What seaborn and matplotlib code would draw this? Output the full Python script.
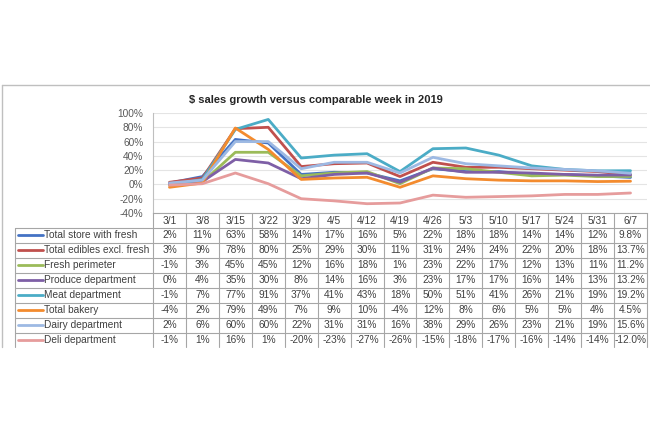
import matplotlib
matplotlib.use("Agg")
import matplotlib.pyplot as plt
import matplotlib.transforms as mtransforms
import numpy as np
import pandas as pd
import seaborn as sns

weeks = ["3/1", "3/8", "3/15", "3/22", "3/29", "4/5", "4/12", "4/19",
         "4/26", "5/3", "5/10", "5/17", "5/24", "5/31", "6/7"]

series_names = ["Total store with fresh", "Total edibles excl. fresh",
                "Fresh perimeter", "Produce department", "Meat department",
                "Total bakery", "Dairy department", "Deli department"]

store = [2, 11, 63, 58, 14, 17, 16, 5, 22, 18, 18, 14, 14, 12, 9.8]
edibles = [3, 9, 78, 80, 25, 29, 30, 11, 31, 24, 24, 22, 20, 18, 13.7]
perimeter = [-1, 3, 45, 45, 12, 16, 18, 1, 23, 22, 17, 12, 13, 11, 11.2]
produce = [0, 4, 35, 30, 8, 14, 16, 3, 23, 17, 17, 16, 14, 13, 13.2]
meat = [-1, 7, 77, 91, 37, 41, 43, 18, 50, 51, 41, 26, 21, 19, 19.2]
bakery = [-4, 2, 79, 49, 7, 9, 10, -4, 12, 8, 6, 5, 5, 4, 4.5]
dairy = [2, 6, 60, 60, 22, 31, 31, 16, 38, 29, 26, 23, 21, 19, 15.6]
deli = [-1, 1, 16, 1, -20, -23, -27, -26, -15, -18, -17, -16, -14, -14, -12.0]

colors = ["#4472C4", "#C0504D", "#9BBB59", "#7E5FA6",
          "#4BACC6", "#F38B2E", "#9DB9E3", "#E69C9C"]

values = [store, edibles, perimeter, produce, meat, bakery, dairy, deli]

df = pd.DataFrame({
    "week": np.tile(np.arange(len(weeks)), len(series_names)),
    "series": np.repeat(series_names, len(weeks)),
    "growth": np.concatenate(values),
})

sns.set_style("white")
plt.rcParams["font.family"] = ["Liberation Sans", "DejaVu Sans"]

fig = plt.figure(figsize=(6.5, 4.33), dpi=100)

# overlay in pixel coords for frame + data table
ov = fig.add_axes([0, 0, 1, 1], zorder=0)
ov.set_xlim(0, 650)
ov.set_ylim(433, 0)
ov.axis("off")

ax = fig.add_axes([153 / 650, 1 - 213 / 433, (647 - 153) / 650, 100 / 433], zorder=1)
ax.patch.set_alpha(0)

sns.lineplot(data=df, x="week", y="growth", hue="series", hue_order=series_names,
             palette=colors, linewidth=2, ax=ax, legend=False)

ax.set_xlim(-0.5, len(weeks) - 0.5)
ax.set_ylim(-40, 100)
yt = list(range(-40, 101, 20))
ax.set_yticks(yt)
ax.set_yticklabels([f"{t}%" for t in yt], fontsize=7.3, color="#595959")
ax.set_xticks([])
ax.set_xlabel("")
ax.set_ylabel("")
ax.tick_params(axis="y", length=0, pad=7)
ax.yaxis.grid(True, color="#E4E4E4", linewidth=0.8)
for s in ["top", "right"]:
    ax.spines[s].set_visible(False)
ax.spines["left"].set_color("#BFBFBF")
ax.spines["bottom"].set_color("#A6A6A6")
ax.spines["left"].set_linewidth(0.8)
ax.spines["bottom"].set_linewidth(0.8)

ax.set_title("$ sales growth versus comparable week in 2019", fontsize=8,
             fontweight="bold", color="#262626", pad=7, x=0.33)

# outer frame
ov.plot([2, 650], [85, 85], color="#BFBFBF", lw=1)
ov.plot([2, 2], [85, 347], color="#BFBFBF", lw=1)

# data table
trans = mtransforms.blended_transform_factory(ax.transData, ov.transData)
grid_c = "#A6A6A6"
top = 227.5
rh = 15
bottom = 347
n = len(weeks)

for i, w in enumerate(weeks):
    ov.text(i, 220.5, w, transform=trans, ha="center", va="center",
            fontsize=7.3, color="#404040")
for i in range(n + 1):
    ov.plot([i - 0.5, i - 0.5], [213, bottom], transform=trans, color=grid_c, lw=0.8)
ov.plot([15, 15], [top, bottom], color=grid_c, lw=0.8)
for r in range(len(series_names)):
    y = top + r * rh
    ov.plot([15, 647], [y, y], color=grid_c, lw=0.8)

for r, (name, vals, c) in enumerate(zip(series_names, values, colors)):
    yc = top + r * rh + rh / 2
    ov.plot([18, 43], [yc, yc], color=c, lw=2)
    ov.text(44.5, yc, name, ha="left", va="center", fontsize=7.3, color="#404040")
    for i, v in enumerate(vals):
        label = f"{v:.1f}%" if i == n - 1 else f"{v:.0f}%"
        ov.text(i, yc, label, transform=trans, ha="center", va="center",
                fontsize=7.3, color="#404040")

fig.savefig("out.png", dpi=100)
